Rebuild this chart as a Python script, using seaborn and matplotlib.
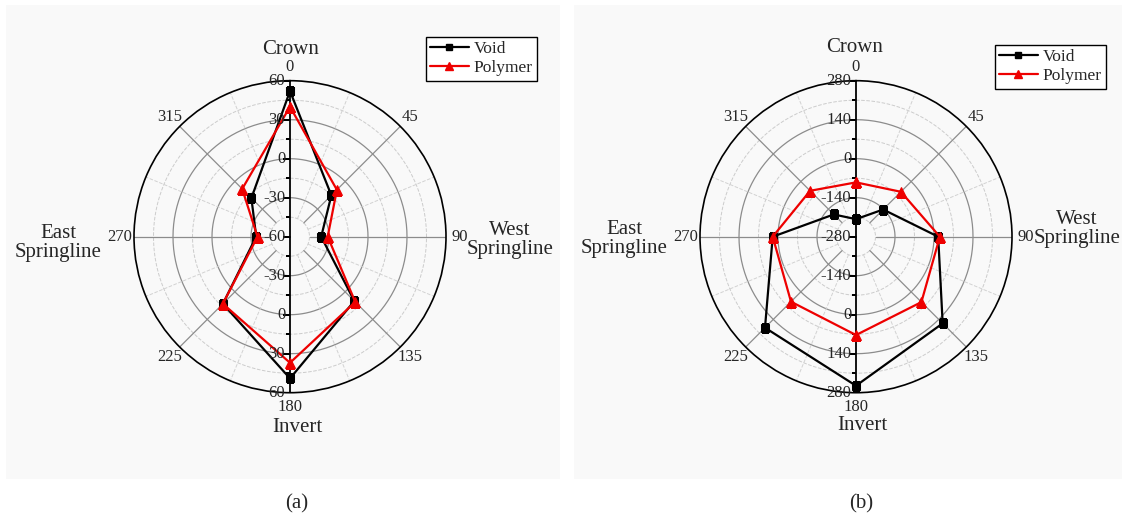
import numpy as np
import pandas as pd
import seaborn as sns
import matplotlib.pyplot as plt
from matplotlib.patches import Rectangle
from matplotlib.lines import Line2D

# angles (deg) around the pipe, clockwise from crown
angles = [0, 45, 90, 135, 180, 225, 270, 315]

# panel (a)
void_a = [52, -15, -36, 10, 49, 13, -34, -18]
poly_a = [40, -9, -31, 11, 37, 13, -35, -8]
rlim_a = (-60, 60)
rticks_a = [60, 30, 0, -30, -60]

# panel (b)
void_b = [-217, -142, 15, 160, 255, 182, 19, -167]
poly_b = [-85, -52, 21, 52, 73, 50, 19, -47]
rlim_b = (-280, 280)
rticks_b = [280, 140, 0, -140, -280]

sns.set_theme(style='white')
plt.rcParams['font.family'] = ['Liberation Serif', 'DejaVu Serif']

W, H = 1127, 522
fig = plt.figure(figsize=(W / 100, H / 100), dpi=100)
fig.patch.set_facecolor('white')
bg = '#f9f9f9'


def closed(df):
    return pd.concat([df, df.iloc[[0]].assign(theta=2 * np.pi)], ignore_index=True)


def draw_panel(cx, void, poly, rlim, rticks, legend_xy):
    rad = 156
    ax = fig.add_axes([(cx - rad) / W, (H - 236.7 - rad) / H, 2 * rad / W, 2 * rad / H],
                      projection='polar')
    ax.set_facecolor(bg)
    ax.set_theta_zero_location('N')
    ax.set_theta_direction(-1)
    ax.set_ylim(*rlim)
    ax.grid(False)
    ax.set_yticks([])
    ax.set_xticks(np.deg2rad(angles))
    ax.set_xticklabels([str(a) for a in angles], fontsize=12)
    ax.set_xticks(np.deg2rad(np.arange(22.5, 360, 45)), minor=True)
    ax.tick_params(axis='x', which='both', pad=3, direction='in', length=5, color='black')
    ax.tick_params(axis='x', which='minor', length=3)
    ax.spines['polar'].set_color('black')
    ax.spines['polar'].set_linewidth(1.2)

    lo, hi = rlim
    step = (hi - lo) / 8.0
    th = np.linspace(0, 2 * np.pi, 361)
    # circles
    for k in range(1, 8):
        r = lo + k * step
        if k % 2 == 0:
            ax.plot(th, np.full_like(th, r), color='#8c8c8c', lw=0.9, zorder=1)
        else:
            ax.plot(th, np.full_like(th, r), color='#cccccc', lw=0.7, ls='--', zorder=1)
    # spokes
    for a in angles:
        if a in (0, 180):
            continue
        ax.plot([np.deg2rad(a)] * 2, [lo + step, hi], color='#8c8c8c', lw=0.9, zorder=1)
    for a in np.arange(22.5, 360, 45):
        ax.plot([np.deg2rad(a)] * 2, [lo + step, hi], color='#d2d2d2', lw=0.7, ls='--', zorder=1)
    # vertical radial axis with ticks on its left side
    ax.plot([0, 0], [lo, hi], color='black', lw=1.3, zorder=2)
    ax.plot([np.pi, np.pi], [lo, hi], color='black', lw=1.3, zorder=2)
    major = [lo + k * 2 * step for k in range(5)]
    minor = [lo + (2 * k + 1) * step for k in range(4)]
    for t in (0, np.pi):
        ax.plot([t] * len(major), major, ls='none', marker=0, ms=5, mew=1.1, color='black', zorder=2)
        ax.plot([t] * len(minor), minor, ls='none', marker=0, ms=3, mew=1.1, color='black', zorder=2)
    for r in rticks:
        ax.annotate(str(r), (0, r), xytext=(-3.5, 0), textcoords='offset points',
                    ha='right', va='center', fontsize=12, zorder=5)
        if r != lo:
            ax.annotate(str(r), (np.pi, r), xytext=(-3.5, 0), textcoords='offset points',
                        ha='right', va='center', fontsize=12, zorder=5)

    theta = np.deg2rad(angles)
    dv = closed(pd.DataFrame({'theta': theta, 'r': void}))
    dp = closed(pd.DataFrame({'theta': theta, 'r': poly}))
    sns.lineplot(data=dv, x='theta', y='r', sort=False, ax=ax, color='black', lw=1.6,
                 marker='s', markersize=6, markeredgecolor='black', zorder=4)
    sns.lineplot(data=dp, x='theta', y='r', sort=False, ax=ax, color='#ee0000', lw=1.6,
                 marker='^', markersize=7.5, markeredgecolor='#ee0000', zorder=4)
    ax.set_xlabel('')
    ax.set_ylabel('')
    ax.set_ylim(*rlim)

    handles = [Line2D([], [], color='black', lw=1.6, marker='s', ms=5),
               Line2D([], [], color='#ee0000', lw=1.6, marker='^', ms=6)]
    fig.legend(handles, ['Void', 'Polymer'], loc='upper left',
               bbox_to_anchor=(legend_xy[0] / W, 1 - legend_xy[1] / H),
               frameon=True, fancybox=False, edgecolor='black', framealpha=1,
               facecolor='white', fontsize=12.5, handlelength=2.2, handletextpad=0.3,
               borderpad=0.25, labelspacing=0.15, borderaxespad=0)
    return ax


fig.add_artist(Rectangle((6 / W, 1 - 479 / H), 554 / W, 474 / H, transform=fig.transFigure,
                         facecolor=bg, edgecolor='none', zorder=-10))
fig.add_artist(Rectangle((574 / W, 1 - 479 / H), 548 / W, 474 / H, transform=fig.transFigure,
                         facecolor=bg, edgecolor='none', zorder=-10))

draw_panel(290, void_a, poly_a, rlim_a, rticks_a, (426, 37))
draw_panel(856, void_b, poly_b, rlim_b, rticks_b, (995, 45))


def ftext(x, y, s, **kw):
    fig.text(x / W, 1 - y / H, s, ha='center', va='center', fontsize=15, linespacing=1.05, **kw)


ftext(291, 50, 'Crown')
ftext(510, 240, 'West\nSpringline')
ftext(58, 243, 'East\nSpringline')
ftext(297, 428, 'Invert')
ftext(855, 47, 'Crown')
ftext(1077, 229, 'West\nSpringline')
ftext(624, 239, 'East\nSpringline')
ftext(862, 425, 'Invert')
ftext(297, 504, '(a)', )
ftext(861, 504, '(b)')

fig.savefig('out.png', dpi=100)
